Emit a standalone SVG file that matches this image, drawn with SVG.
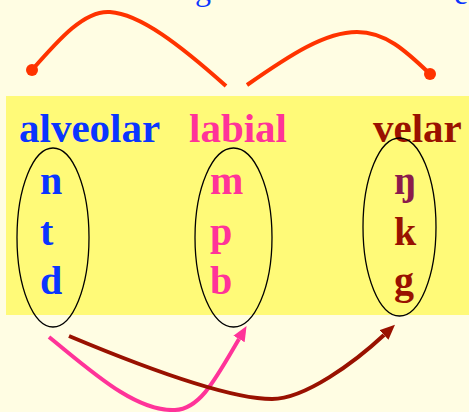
<svg xmlns="http://www.w3.org/2000/svg" width="469" height="412" viewBox="0 0 469 412">
<defs>
<style>
.t{font-family:"Liberation Serif","Times New Roman",serif;font-weight:bold;font-size:41px}
.s{font-family:"Liberation Serif","Times New Roman",serif;font-weight:bold;font-size:40px}
.blue{fill:#0a35ff}
.pink{fill:#ff3399}
.dred{fill:#991100}
.ell{fill:none;stroke:#000;stroke-width:1.3}
.arc{fill:none;stroke:#ff3300;stroke-width:4}
</style>
<marker id="mp" markerUnits="userSpaceOnUse" markerWidth="16" markerHeight="14" refX="0" refY="6.5" orient="auto"><path d="M0,0 L15,6.5 L0,13 z" fill="#ff3399"/></marker>
<marker id="md" markerUnits="userSpaceOnUse" markerWidth="16" markerHeight="14" refX="0" refY="6.5" orient="auto"><path d="M0,0 L15,6.5 L0,13 z" fill="#991100"/></marker>
</defs>
<rect width="469" height="412" fill="#fffde3"/>
<rect x="6" y="96" width="463" height="219" fill="#fffa78"/>
<g id="title">
<text x="195" y="0" font-family="Liberation Serif, serif" font-size="32" fill="#0a35ff">g</text>
<text x="454" y="4" font-family="Liberation Serif, serif" font-size="32" fill="#0a35ff">e</text>
</g>
<g id="alveolar">
<text class="t blue" x="19" y="142">alveolar</text>
<text class="s blue" x="40" y="194">n</text>
<text class="s blue" x="40" y="245">t</text>
<text class="s blue" x="40" y="294">d</text>
<ellipse class="ell" cx="53" cy="237.5" rx="36" ry="89.5"/>
</g>
<g id="labial">
<text class="t pink" x="189" y="142">labial</text>
<text class="s pink" x="210" y="194">m</text>
<text class="s pink" x="210" y="245">p</text>
<text class="s pink" x="210" y="294">b</text>
<ellipse class="ell" cx="233.5" cy="237.5" rx="38.5" ry="89.5"/>
</g>
<g id="velar">
<text class="t dred" x="373" y="142">velar</text>
<text class="s" x="394" y="194" fill="#8b1a4c">ŋ</text>
<text class="s dred" x="394" y="245">k</text>
<text class="s dred" x="394" y="294">g</text>
<ellipse class="ell" cx="399.5" cy="227" rx="36.5" ry="89"/>
</g>
<g id="connectors">
<path class="arc" d="M32,70 C60,38 85,10 110,12 C140,14 180,45 226,86"/>
<circle cx="32" cy="70" r="6" fill="#ff3300"/>
<path class="arc" d="M247,85 C290,55 325,32 357,32 C385,32 405,50 430,74"/>
<circle cx="430" cy="74" r="6" fill="#ff3300"/>
<path d="M49,337 C90,370 135,412 175,410 C200,409 215,380 239,339" fill="none" stroke="#ff3399" stroke-width="4" marker-end="url(#mp)"/>
<path d="M69,336 C150,370 230,399 272,399 C305,399 355,362 384,335" fill="none" stroke="#991100" stroke-width="4" marker-end="url(#md)"/>
</g>
</svg>
